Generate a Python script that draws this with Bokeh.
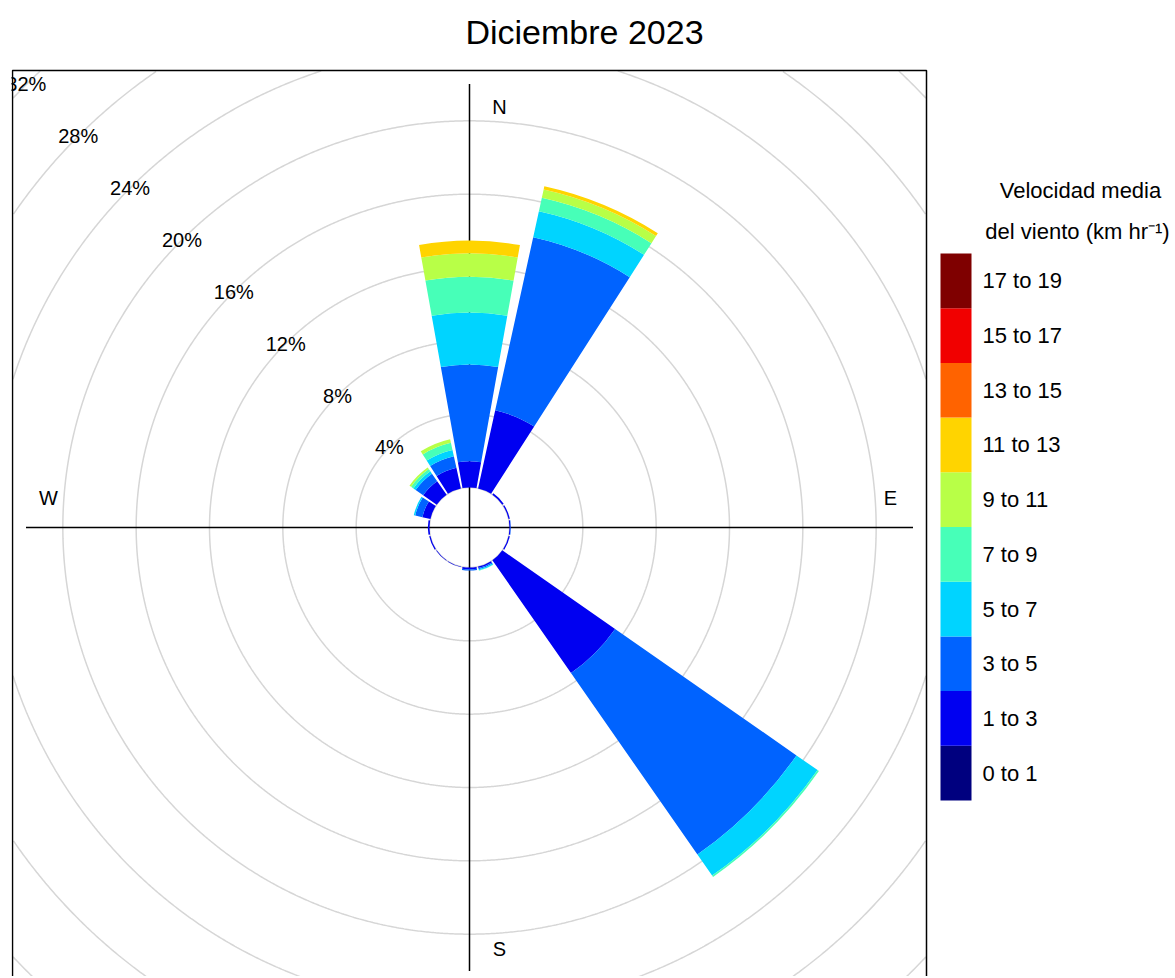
import math
from bokeh.plotting import figure
from bokeh.models import ColumnDataSource, Range1d
from bokeh.core.properties import value
from bokeh.embed import file_html
from bokeh.resources import INLINE

# ---------------- data ----------------
title_text = "Diciembre 2023"
directions = ["N", "NNE", "NE", "ENE", "E", "ESE", "SE", "SSE",
              "S", "SSW", "SW", "WSW", "W", "WNW", "NW", "NNW"]
bearings = [0, 22.5, 45, 67.5, 90, 112.5, 135, 157.5,
            180, 202.5, 225, 247.5, 270, 292.5, 315, 337.5]

speed_bins = ["0 to 1", "1 to 3", "3 to 5", "5 to 7", "7 to 9",
              "9 to 11", "11 to 13", "13 to 15", "15 to 17", "17 to 19"]
bin_colors = ["#00007F", "#0000F1", "#0063FF", "#00D4FF", "#47FFB8",
              "#B8FF47", "#FFD400", "#FF6300", "#F10000", "#7F0000"]

# frequency (%) of each speed bin, per direction (order of `directions`)
freq_0_1   = [0, 0, 0, 0, 0, 0, 0, 0, 0, 0, 0, 0, 0, 0, 0, 0]
freq_1_3   = [1.43, 4.36, 0.09, 0.07, 0.06, 0.07, 7.50, 0.08, 0.10, 0.03, 0.03, 0.07, 0.09, 0.45, 0.90, 1.15]
freq_3_5   = [5.28, 9.67, 0, 0, 0.02, 0, 12.06, 0.07, 0.07, 0, 0, 0, 0, 0.40, 0.50, 0.65]
freq_5_7   = [2.84, 1.45, 0, 0, 0, 0, 1.40, 0.06, 0, 0, 0, 0, 0, 0.08, 0.15, 0.35]
freq_7_9   = [1.95, 0.75, 0, 0, 0, 0, 0.09, 0.02, 0, 0, 0, 0, 0, 0, 0.15, 0.40]
freq_9_11  = [1.28, 0.46, 0, 0, 0, 0, 0, 0, 0, 0, 0, 0, 0, 0, 0.11, 0.20]
freq_11_13 = [0.69, 0.18, 0, 0, 0, 0, 0, 0, 0, 0, 0, 0, 0, 0, 0, 0]
freq_13_15 = [0] * 16
freq_15_17 = [0] * 16
freq_17_19 = [0] * 16
freqs = [freq_0_1, freq_1_3, freq_3_5, freq_5_7, freq_7_9,
         freq_9_11, freq_11_13, freq_13_15, freq_15_17, freq_17_19]

ring_breaks = [0, 4, 8, 12, 16, 20, 24, 28, 32]
ring_labels = ["", "4%", "8%", "12%", "16%", "20%", "24%", "28%", "32%"]
compass_labels = ["N", "E", "S", "W"]
legend_title_1 = "Velocidad media"
legend_title_2 = "del viento (km hr\u207b\u00b9)"

# ---------------- layout ----------------
PX = 18.333            # pixels per percent
CX, CY = 469, 527      # page position of the rose centre
OFFSET = 40 / PX       # inner hole radius (data units)
HALF = 457 / PX        # half size of the panel box
SEG = 0.9 * 22.5 / 2   # half angular width of a bar
FONT = value("Liberation Sans")


def X(px):
    return (px - CX) / PX


def Y(py):
    return (CY - py) / PX


W, H = 1172, 976
LEFT = 11
p = figure(width=W, height=H, output_backend="svg", toolbar_location=None,
           x_axis_type=None, y_axis_type=None,
           x_range=Range1d(X(LEFT), X(W)), y_range=Range1d(Y(H), Y(0)),
           min_border_left=LEFT, min_border_right=0, min_border_top=0,
           min_border_bottom=0)
p.grid.visible = False
p.outline_line_color = None
p.background_fill_color = "white"
p.border_fill_color = "white"

# grid rings clipped to the panel box
for b in ring_breaks:
    r = OFFSET + b
    xs, ys = [], []
    for k in range(0, 1441):
        a = math.radians(k * 0.25)
        x, y = r * math.cos(a), r * math.sin(a)
        if abs(x) > HALF or y > HALF:
            xs.append(float("nan"))
            ys.append(float("nan"))
        else:
            xs.append(x)
            ys.append(y)
    p.line(xs, ys, line_color="#D6D6D6", line_width=1.5)

# axis cross
A = 443.5 / PX
p.segment(x0=[-A, 0], y0=[0, -A], x1=[A, 0], y1=[0, A],
          line_color="black", line_width=1.5)

# panel border (left, top, right)
p.line([X(12), X(12), X(926), X(926)], [Y(1000), Y(70), Y(70), Y(1000)],
       line_color="black", line_width=1.5)

# stacked bars
src = dict(inner=[], outer=[], start=[], end=[], color=[])
for i, b in enumerate(bearings):
    cum = 0.0
    for j, f in enumerate(freqs):
        v = f[i]
        if v <= 0:
            continue
        src["inner"].append(OFFSET + cum)
        src["outer"].append(OFFSET + cum + v)
        src["start"].append(math.radians(90 - b - SEG))
        src["end"].append(math.radians(90 - b + SEG))
        src["color"].append(bin_colors[j])
        cum += v
src["x"] = [0] * len(src["inner"])
src["y"] = [0] * len(src["inner"])
p.annular_wedge(x="x", y="y", inner_radius="inner", outer_radius="outer",
                start_angle="start", end_angle="end", fill_color="color",
                line_color=None, source=ColumnDataSource(src))

# ring labels along the NW diagonal
lx, ly, lt = [], [], []
for b, t in zip(ring_breaks, ring_labels):
    if not t:
        continue
    r = OFFSET + b
    lx.append(-r * math.sqrt(0.5))
    ly.append(r * math.sqrt(0.5))
    lt.append(t)
p.text(x=lx, y=ly, text=lt, text_font=FONT, text_font_size="20px",
       text_align="center", text_baseline="middle", text_color="black")

# compass labels
R_LAB = 421 / PX
SH = 30 / PX
p.text(x=[SH, R_LAB, SH, -R_LAB], y=[R_LAB, SH, -R_LAB, SH],
       text=compass_labels, text_font=FONT, text_font_size="20px",
       text_align="center", text_baseline="middle", text_color="black")

# title
p.text(x=[X(584)], y=[Y(31)], text=[title_text], text_font=FONT,
       text_font_size="34px", text_align="center", text_baseline="middle",
       text_color="black")

# legend
top0, step = 253, 54.7
n = len(speed_bins)
leg_top = [Y(top0 + (n - 1 - j) * step) for j in range(n)]
leg_bot = [Y(top0 + (n - j) * step) for j in range(n)]
p.quad(left=[X(940)] * n, right=[X(971)] * n, top=leg_top, bottom=leg_bot,
       fill_color=bin_colors, line_color=None)
p.text(x=[X(982)] * n, y=[(t + bt) / 2 for t, bt in zip(leg_top, leg_bot)],
       text=speed_bins, text_font=FONT, text_font_size="22px",
       text_align="left", text_baseline="middle", text_color="black")
p.text(x=[X(1080), X(1077)], y=[Y(190), Y(231)],
       text=[legend_title_1, legend_title_2], text_font=FONT,
       text_font_size="22px", text_align="center", text_baseline="middle",
       text_color="black")

open("out.html", "w").write(file_html(p, INLINE))
